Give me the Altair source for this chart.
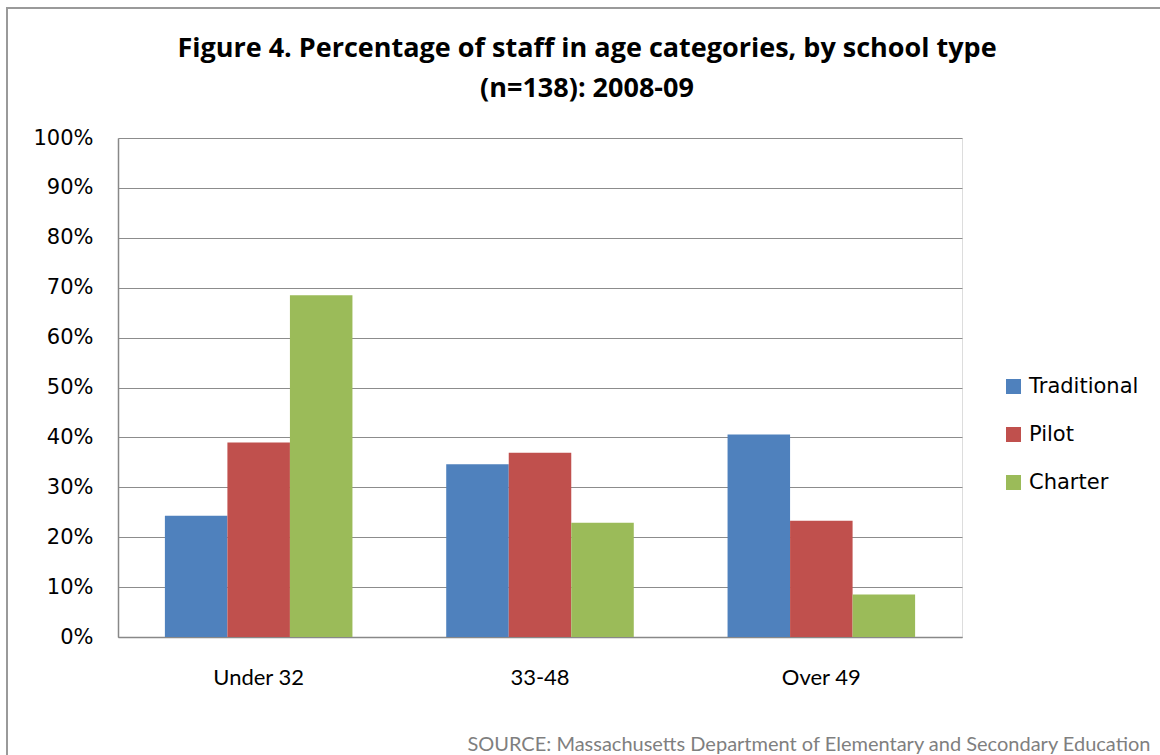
import altair as alt
import pandas as pd

categories = ["Under 32", "33-48", "Over 49"]
series = ["Traditional", "Pilot", "Charter"]
traditional = [24.3, 34.6, 40.6]
pilot = [39.0, 36.9, 23.3]
charter = [68.5, 22.9, 8.5]
colors = ["#4F81BD", "#C0504D", "#9BBB59"]
y_ticks = [0, 10, 20, 30, 40, 50, 60, 70, 80, 90, 100]

rows = []
for s, vals in zip(series, [traditional, pilot, charter]):
    for c, v in zip(categories, vals):
        rows.append({"category": c, "series": s, "value": v / 100})
df = pd.DataFrame(rows)

W, H = 844, 499
PL, PT = 118, 138

bars = alt.Chart(df).mark_bar().encode(
    x=alt.X("category:N", sort=categories,
            scale=alt.Scale(paddingInner=1/3, paddingOuter=1/6),
            axis=alt.Axis(title="SOURCE: Massachusetts Department of Elementary and Secondary Education",
                          labelAngle=0, labelFont="Lato", labelFontSize=22, labelColor="#000000",
                          labelPadding=30, ticks=False, domainColor="#888888", domainWidth=1.5,
                          titleFont="Lato", titleFontSize=20, titleFontWeight="normal",
                          titleColor="#7f7f7f", titleAnchor="end", titleAlign="right",
                          titleX=1150 - PL, titleY=113, titleBaseline="alphabetic")),
    xOffset=alt.XOffset("series:N", sort=series, scale=alt.Scale(paddingInner=0, paddingOuter=0)),
    y=alt.Y("value:Q", scale=alt.Scale(domain=[0, 1], nice=False),
            axis=alt.Axis(title=None, format="%", values=[t / 100 for t in y_ticks],
                          labelFont="DejaVu Sans", labelFontSize=21, labelColor="#000000",
                          ticks=False, labelPadding=25, gridColor="#8c8c8c", gridWidth=1.2,
                          domainColor="#888888", domainWidth=1.5)),
    color=alt.Color("series:N", sort=series,
                    scale=alt.Scale(domain=series, range=colors),
                    legend=alt.Legend(title=None, orient="none", legendX=1003 - PL, legendY=238,
                                      symbolType="square", symbolSize=225, symbolStrokeWidth=0,
                                      labelFont="DejaVu Sans", labelFontSize=21, labelColor="#000000",
                                      rowPadding=26, labelOffset=5)),
)

frame = alt.Chart(pd.DataFrame({"a": [0]})).mark_rect(fill=None, stroke="#9a9a9a", strokeWidth=2).encode(
    x=alt.value(7 - PL), x2=alt.value(1300), y=alt.value(8 - PT), y2=alt.value(900)
)

chart = alt.layer(frame, bars).properties(
    width=W, height=H,
    title=alt.TitleParams(["Figure 4. Percentage of staff in age categories, by school type", "(n=138): 2008-09"],
                          font="Open Sans", fontSize=27, fontWeight="bold", color="#000000",
                          anchor="middle", dx=47, dy=96, lineHeight=40, offset=0),
    autosize=alt.AutoSizeParams(type="none"),
    padding={"left": PL, "top": PT, "right": 1160 - PL - W, "bottom": 755 - PT - H},
).configure_view(stroke=None).configure(background="white")

chart.save("out.html", embed_options={"renderer": "svg", "actions": False})
